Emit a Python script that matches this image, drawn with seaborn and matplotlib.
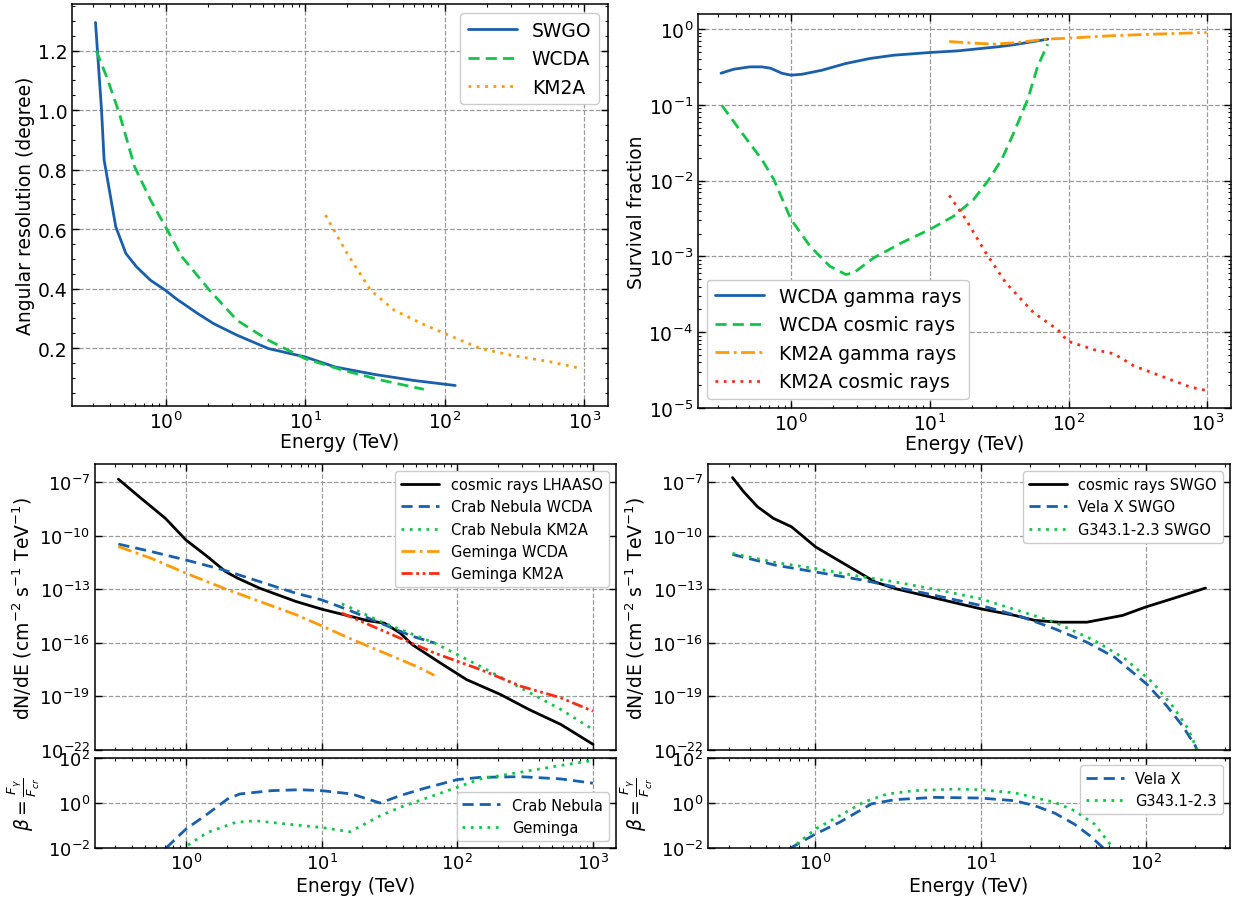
import matplotlib
import matplotlib.pyplot as plt
import numpy as np
import seaborn as sns
from matplotlib.ticker import AutoMinorLocator, LogLocator, NullLocator

matplotlib.use("Agg")

BLUE = "#1a5fab"
GREEN = "#14c44a"
ORANGE = "#ff9a0a"
RED = "#ff2a12"

# --- angular resolution (degree) ---
swgo_res_e = [0.315, 0.348, 0.363, 0.44, 0.52, 0.62, 0.78, 1.0, 1.19, 1.7, 2.21, 3.26, 5.47, 10, 16.5, 31.6, 60, 119]
swgo_res = [1.295, 1.0, 0.833, 0.608, 0.518, 0.473, 0.428, 0.394, 0.366, 0.316, 0.282, 0.243, 0.198, 0.170, 0.136, 0.111, 0.091, 0.074]
wcda_res_e = [0.319, 0.378, 0.466, 0.60, 0.78, 1.0, 1.31, 2.07, 3.26, 5.47, 10, 18.8, 35.9, 70.9]
wcda_res = [1.2, 1.113, 0.99, 0.81, 0.698, 0.608, 0.507, 0.394, 0.293, 0.226, 0.164, 0.125, 0.091, 0.061]
km2a_res_e = [14, 20, 29.5, 43.6, 68.7, 101, 181, 305, 583, 968]
km2a_res = [0.647, 0.518, 0.394, 0.327, 0.282, 0.248, 0.198, 0.175, 0.153, 0.13]

# --- survival fraction ---
wcda_gam_e = [0.313, 0.387, 0.505, 0.616, 0.713, 0.859, 1.0, 1.2, 1.67, 2.48, 3.7, 5.5, 10, 15.9, 31, 40, 70.8]
wcda_gam = [0.262, 0.296, 0.318, 0.318, 0.305, 0.262, 0.247, 0.254, 0.287, 0.352, 0.41, 0.453, 0.492, 0.517, 0.585, 0.621, 0.738]
wcda_cr_e = [0.317, 0.442, 0.616, 0.752, 1.0, 1.37, 1.9, 2.48, 2.83, 3.95, 6.29, 10, 14.9, 20.7, 26.2, 33, 40.3, 50.8, 60, 70.8]
wcda_cr = [0.099, 0.043, 0.0191, 0.0104, 0.00308, 0.00137, 0.000745, 0.000578, 0.000608, 0.00096,
           0.00152, 0.00227, 0.00341, 0.00566, 0.0099, 0.0191, 0.043, 0.119, 0.327, 0.634]
km2a_gam_e = [13.8, 20.7, 28.9, 43, 68.5, 98.7, 198, 411, 986]
km2a_gam = [0.687, 0.653, 0.634, 0.667, 0.738, 0.76, 0.817, 0.859, 0.904]
km2a_cr_e = [13.8, 18.2, 25.3, 35.3, 56.1, 83.6, 98.7, 152, 212, 295, 501, 747, 986]
km2a_cr = [0.0064, 0.00308, 0.00112, 0.000449, 0.00018, 0.000108, 7.6e-5, 5.9e-5, 5.2e-5, 3.6e-5, 2.5e-5, 1.9e-5, 1.7e-5]

# --- LHAASO spectra (log10 dN/dE) ---
lhaaso_cr_e = [0.318, 0.454, 0.706, 1.0, 1.44, 1.96, 2.41, 3.5, 6.47, 10, 15.7, 22, 29, 38, 46.7, 75, 117, 209, 337, 580, 1000]
lhaaso_cr = [-6.85, -7.84, -9.04, -10.25, -11.18, -12.02, -12.39, -12.95, -13.69, -14.12, -14.49, -14.77,
             -14.9, -15.46, -16.11, -17.13, -18.06, -18.9, -19.73, -20.57, -21.68]
crab_wcda_e = [0.318, 0.557, 1.0, 1.9, 3.5, 6.47, 10, 15.7, 29, 46.7, 67.8]
crab_wcda = [-10.48, -10.9, -11.37, -11.93, -12.58, -13.23, -13.6, -14.16, -14.99, -15.64, -16.01]
crab_km2a_e = [14.1, 29, 67.8, 148, 293, 580, 1000]
crab_km2a = [-13.82, -14.9, -16.01, -17.32, -18.52, -19.73, -20.85]
gem_wcda_e = [0.318, 0.557, 1.0, 1.9, 3.5, 6.47, 10, 15.7, 29, 50, 67.8]
gem_wcda = [-10.62, -11.28, -12.11, -12.95, -13.69, -14.43, -15.05, -15.72, -16.57, -17.32, -17.82]
gem_km2a_e = [14.1, 29, 67.8, 148, 293, 580, 1000]
gem_km2a = [-14.34, -15.36, -16.57, -17.5, -18.43, -19.08, -19.83]

# --- LHAASO beta (log10) ---
crab_beta_e = [0.6, 0.72, 1.0, 1.44, 2.03, 2.49, 4.3, 6.9, 10, 16.7, 27, 38, 57, 100, 148, 293, 580, 1000]
crab_beta = [-2.6, -1.98, -1.16, -0.49, 0.18, 0.40, 0.55, 0.59, 0.55, 0.40, 0.0, 0.33, 0.65, 1.04, 1.14, 1.17, 1.07, 0.88]
gem_beta_e = [0.85, 1.0, 1.44, 2.33, 3.27, 5.6, 10, 16.2, 27, 38, 57, 100, 148, 293, 580, 1000]
gem_beta = [-2.4, -1.93, -1.31, -0.86, -0.79, -0.94, -1.09, -1.28, -0.57, -0.19, 0.18, 0.70, 1.07, 1.37, 1.67, 1.89]

# --- SWGO spectra (log10 dN/dE) ---
swgo_cr_e = [0.315, 0.367, 0.446, 0.557, 0.716, 0.847, 1.0, 1.32, 1.74, 2.3, 3.04, 5.3, 10, 16.1, 21.3,
             29.7, 44, 72.5, 100, 149, 230]
swgo_cr = [-6.76, -7.54, -8.39, -9.04, -9.51, -10.07, -10.63, -11.29, -11.94, -12.6, -12.97, -13.5, -14.1,
           -14.47, -14.75, -14.85, -14.85, -14.47, -14.0, -13.5, -12.94]
vela_e = [0.315, 0.573, 1.0, 1.95, 3.04, 5.3, 10, 18, 28.1, 44, 64.8, 101, 134, 167, 200, 215]
vela = [-11.06, -11.66, -12.04, -12.5, -12.88, -13.35, -13.91, -14.57, -15.22, -15.97, -16.81, -18.3,
        -19.53, -20.65, -21.78, -22.6]
g343_e = [0.315, 0.573, 1.0, 1.95, 3.04, 5.3, 10, 18, 28.1, 49, 75, 110, 145, 180, 210, 222]
g343 = [-11.0, -11.51, -11.85, -12.32, -12.6, -13.01, -13.54, -14.28, -14.85, -15.88, -16.9, -18.22,
        -19.53, -20.8, -22.2, -22.8]

# --- SWGO beta (log10) ---
vela_beta_e = [0.6, 0.716, 1.0, 1.4, 2.18, 3.04, 5.3, 10, 16.1, 21.3, 28.1, 37, 46, 55.4, 65]
vela_beta = [-2.6, -1.98, -1.38, -0.86, -0.04, 0.15, 0.25, 0.22, 0.10, -0.12, -0.45, -0.94, -1.46, -2.0, -2.6]
g343_beta_e = [0.6, 0.74, 1.0, 1.4, 1.95, 2.72, 4.0, 7.0, 10, 16.1, 28.1, 37, 49, 63, 75]
g343_beta = [-2.6, -1.93, -1.16, -0.57, 0.03, 0.40, 0.55, 0.62, 0.59, 0.45, 0.03, -0.34, -0.94, -1.98, -2.6]

FIG_W, FIG_H = 1234, 903


def add_axes_px(fig, left, top, right, bottom):
    return fig.add_axes([left / FIG_W, 1 - bottom / FIG_H, (right - left) / FIG_W, (bottom - top) / FIG_H])


def style_axes(ax, fontsize):
    ax.tick_params(which="both", direction="in", top=True, right=True, labelsize=fontsize,
                   color="black", labelcolor="black")
    ax.tick_params(which="major", length=5, width=1)
    ax.tick_params(which="minor", length=2.5, width=0.8)
    ax.grid(True, which="major", linestyle="--", color="#9a9a9a", linewidth=0.9)
    for spine in ax.spines.values():
        spine.set_linewidth(1.1)
        spine.set_color("black")


def line(ax, x, y, color, ls, label=None, log_y=False):
    y = np.power(10.0, y) if log_y else np.asarray(y)
    sns.lineplot(x=x, y=y, ax=ax, color=color, linestyle=ls, linewidth=2, label=label, sort=False)


def legend(ax, loc, size):
    leg = ax.legend(loc=loc, fontsize=size, handlelength=2.6, framealpha=1, edgecolor="#cccccc")
    for text in leg.get_texts():
        text.set_color("black")


def main():
    sns.set_theme(style="ticks")
    plt.rcParams["font.family"] = ["DejaVu Sans"]
    plt.rcParams["mathtext.fontset"] = "dejavusans"
    plt.rcParams["text.color"] = "black"
    plt.rcParams["axes.labelcolor"] = "black"

    fig = plt.figure(figsize=(FIG_W / 100, FIG_H / 100), dpi=100)
    xlim_full = (10 ** -0.67, 10 ** 3.17)

    # angular resolution
    ax1 = add_axes_px(fig, 72, 5, 608, 407)
    ax1.set_xscale("log")
    line(ax1, swgo_res_e, swgo_res, BLUE, "-", "SWGO")
    line(ax1, wcda_res_e, wcda_res, GREEN, (0, (4, 2.2)), "WCDA")
    line(ax1, km2a_res_e, km2a_res, ORANGE, (0, (1, 2)), "KM2A")
    ax1.set_xlim(*xlim_full)
    ax1.set_ylim(0.005, 1.357)
    ax1.yaxis.set_minor_locator(AutoMinorLocator(4))
    style_axes(ax1, 13.5)
    ax1.set_xlabel("Energy (TeV)", fontsize=13.5, labelpad=0)
    ax1.set_ylabel("Angular resolution (degree)", fontsize=13.5, labelpad=2)
    legend(ax1, "upper right", 13.5)

    # survival fraction
    ax2 = add_axes_px(fig, 698, 15, 1231, 409)
    ax2.set_xscale("log")
    ax2.set_yscale("log")
    line(ax2, wcda_gam_e, wcda_gam, BLUE, "-", "WCDA gamma rays")
    line(ax2, wcda_cr_e, wcda_cr, GREEN, (0, (4, 2.2)), "WCDA cosmic rays")
    line(ax2, km2a_gam_e, km2a_gam, ORANGE, (0, (5, 1.6, 1, 1.6)), "KM2A gamma rays")
    line(ax2, km2a_cr_e, km2a_cr, RED, (0, (1, 2)), "KM2A cosmic rays")
    ax2.set_xlim(*xlim_full)
    ax2.set_ylim(1e-5, 10 ** 0.2)
    style_axes(ax2, 13.5)
    ax2.set_xlabel("Energy (TeV)", fontsize=13.5, labelpad=0)
    ax2.set_ylabel("Survival fraction", fontsize=13.5, labelpad=2)
    legend(ax2, "lower left", 13.5)

    spec_ticks = [1e-22, 1e-19, 1e-16, 1e-13, 1e-10, 1e-7]
    spec_label = r"dN/dE (cm$^{-2}$ s$^{-1}$ TeV$^{-1}$)"
    beta_label = r"$\beta = \frac{F_\gamma}{F_{cr}}$"

    # LHAASO spectra
    ax3 = add_axes_px(fig, 95, 465, 616, 751)
    ax3.set_xscale("log")
    ax3.set_yscale("log")
    line(ax3, lhaaso_cr_e, lhaaso_cr, "black", "-", "cosmic rays LHAASO", True)
    line(ax3, crab_wcda_e, crab_wcda, BLUE, (0, (4, 2.2)), "Crab Nebula WCDA", True)
    line(ax3, crab_km2a_e, crab_km2a, GREEN, (0, (1, 2)), "Crab Nebula KM2A", True)
    line(ax3, gem_wcda_e, gem_wcda, ORANGE, (0, (5, 1.6, 1, 1.6)), "Geminga WCDA", True)
    line(ax3, gem_km2a_e, gem_km2a, RED, (0, (4, 1.3, 1, 1.3, 1, 1.3)), "Geminga KM2A", True)
    ax3.set_xlim(*xlim_full)
    ax3.set_ylim(1e-22, 1e-6)
    ax3.set_yticks(spec_ticks)
    ax3.yaxis.set_minor_locator(NullLocator())
    style_axes(ax3, 13)
    ax3.tick_params(labelbottom=False)
    ax3.set_ylabel(spec_label, fontsize=13.5)
    legend(ax3, "upper right", 10.5)

    ax4 = add_axes_px(fig, 95, 759, 616, 849)
    ax4.set_xscale("log")
    ax4.set_yscale("log")
    line(ax4, crab_beta_e, crab_beta, BLUE, (0, (4, 2.2)), "Crab Nebula", True)
    line(ax4, gem_beta_e, gem_beta, GREEN, (0, (1, 2)), "Geminga", True)
    ax4.set_xlim(*xlim_full)
    ax4.set_ylim(1e-2, 1e2)
    ax4.set_yticks([1e-2, 1e0, 1e2])
    ax4.yaxis.set_minor_locator(NullLocator())
    style_axes(ax4, 13)
    ax4.set_xlabel("Energy (TeV)", fontsize=13.5, labelpad=2)
    ax4.set_ylabel(beta_label, fontsize=13.5)
    legend(ax4, "lower right", 10.5)

    # SWGO spectra
    xlim_swgo = (10 ** -0.65, 10 ** 2.51)
    ax5 = add_axes_px(fig, 708, 465, 1230, 751)
    ax5.set_xscale("log")
    ax5.set_yscale("log")
    line(ax5, swgo_cr_e, swgo_cr, "black", "-", "cosmic rays SWGO", True)
    line(ax5, vela_e, vela, BLUE, (0, (4, 2.2)), "Vela X SWGO", True)
    line(ax5, g343_e, g343, GREEN, (0, (1, 2)), "G343.1-2.3 SWGO", True)
    ax5.set_xlim(*xlim_swgo)
    ax5.set_ylim(1e-22, 1e-6)
    ax5.set_yticks(spec_ticks)
    ax5.yaxis.set_minor_locator(NullLocator())
    style_axes(ax5, 13)
    ax5.tick_params(labelbottom=False)
    ax5.set_ylabel(spec_label, fontsize=13.5)
    legend(ax5, "upper right", 10.5)

    ax6 = add_axes_px(fig, 708, 759, 1230, 849)
    ax6.set_xscale("log")
    ax6.set_yscale("log")
    line(ax6, vela_beta_e, vela_beta, BLUE, (0, (4, 2.2)), "Vela X", True)
    line(ax6, g343_beta_e, g343_beta, GREEN, (0, (1, 2)), "G343.1-2.3", True)
    ax6.set_xlim(*xlim_swgo)
    ax6.set_ylim(1e-2, 1e2)
    ax6.set_yticks([1e-2, 1e0, 1e2])
    ax6.yaxis.set_minor_locator(NullLocator())
    style_axes(ax6, 13)
    ax6.set_xlabel("Energy (TeV)", fontsize=13.5, labelpad=2)
    ax6.set_ylabel(beta_label, fontsize=13.5)
    legend(ax6, "upper right", 10.5)

    for ax in (ax1, ax2, ax3, ax4, ax5, ax6):
        ax.xaxis.set_minor_locator(LogLocator(base=10, subs=np.arange(2, 10) * 0.1 * 10, numticks=20))

    fig.savefig("out.png", dpi=100)
    plt.close(fig)


if __name__ == "__main__":
    main()
